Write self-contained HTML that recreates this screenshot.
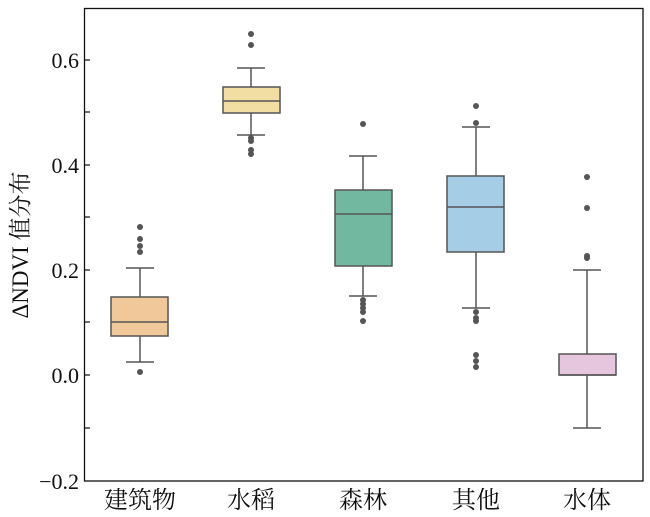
<!DOCTYPE html>
<html><head><meta charset="utf-8"><style>
html,body{margin:0;padding:0;background:#fff;}
svg{display:block;}
text{font-family:"Liberation Serif","Noto Serif CJK SC",serif;fill:#111;}
</style></head><body>
<svg width="650" height="517" viewBox="0 0 650 517" xmlns="http://www.w3.org/2000/svg">
<rect x="0" y="0" width="650" height="517" fill="#fff"/>
<g stroke="#555" stroke-width="1.5" fill="none">
<line x1="140" y1="268" x2="140" y2="297"/><line x1="140" y1="336" x2="140" y2="362"/>
<line x1="126" y1="268" x2="154" y2="268"/><line x1="126" y1="362" x2="154" y2="362"/>
<rect x="111" y="297" width="57" height="39" fill="#f0c89a"/>
<line x1="111" y1="322" x2="168" y2="322"/>
<line x1="251" y1="68" x2="251" y2="87"/><line x1="251" y1="113" x2="251" y2="135"/>
<line x1="237" y1="68" x2="265" y2="68"/><line x1="237" y1="135" x2="265" y2="135"/>
<rect x="223" y="87" width="57" height="26" fill="#f2dea2"/>
<line x1="223" y1="101" x2="280" y2="101"/>
<line x1="363" y1="156" x2="363" y2="190"/><line x1="363" y1="266" x2="363" y2="296"/>
<line x1="349" y1="156" x2="377" y2="156"/><line x1="349" y1="296" x2="377" y2="296"/>
<rect x="335" y="190" width="57" height="76" fill="#72b8a0"/>
<line x1="335" y1="214" x2="392" y2="214"/>
<line x1="476" y1="127" x2="476" y2="176"/><line x1="476" y1="252" x2="476" y2="308"/>
<line x1="462" y1="127" x2="490" y2="127"/><line x1="462" y1="308" x2="490" y2="308"/>
<rect x="447" y="176" width="57" height="76" fill="#a6cde6"/>
<line x1="447" y1="207" x2="504" y2="207"/>
<line x1="587" y1="270" x2="587" y2="354"/><line x1="587" y1="375" x2="587" y2="428"/>
<line x1="573" y1="270" x2="601" y2="270"/><line x1="573" y1="428" x2="601" y2="428"/>
<rect x="559" y="354" width="57" height="21" fill="#e6c6de"/>
<line x1="559" y1="375" x2="616" y2="375"/>
</g>
<g fill="#555">
<circle cx="140" cy="372" r="3"/><circle cx="140" cy="227" r="3"/><circle cx="140" cy="239" r="3"/><circle cx="140" cy="246" r="3"/><circle cx="140" cy="252" r="3"/>
<circle cx="251" cy="34" r="3"/><circle cx="251" cy="45" r="3"/><circle cx="251" cy="138" r="3"/><circle cx="251" cy="141" r="3"/><circle cx="251" cy="150" r="3"/><circle cx="251" cy="154" r="3"/>
<circle cx="363" cy="124" r="3"/><circle cx="363" cy="300" r="3"/><circle cx="363" cy="304" r="3"/><circle cx="363" cy="308" r="3"/><circle cx="363" cy="312" r="3"/><circle cx="363" cy="321" r="3"/>
<circle cx="476" cy="106" r="3"/><circle cx="476" cy="123" r="3"/><circle cx="476" cy="312" r="3"/><circle cx="476" cy="318" r="3"/><circle cx="476" cy="321" r="3"/><circle cx="476" cy="355" r="3"/><circle cx="476" cy="361" r="3"/><circle cx="476" cy="367" r="3"/>
<circle cx="587" cy="177" r="3"/><circle cx="587" cy="208" r="3"/><circle cx="587" cy="256" r="3"/><circle cx="587" cy="258" r="3"/>
</g>
<rect x="84.5" y="8.5" width="558.5" height="472.5" fill="none" stroke="#111" stroke-width="1.3"/>
<g stroke="#111" stroke-width="1.2">
<line x1="84" y1="60" x2="90" y2="60"/><line x1="84" y1="112" x2="90" y2="112"/><line x1="84" y1="165" x2="90" y2="165"/><line x1="84" y1="217" x2="90" y2="217"/><line x1="84" y1="270" x2="90" y2="270"/><line x1="84" y1="322" x2="90" y2="322"/><line x1="84" y1="375" x2="90" y2="375"/><line x1="84" y1="428" x2="90" y2="428"/>
</g>
<g font-size="22" text-anchor="end">
<text x="79" y="68">0.6</text><text x="79" y="173">0.4</text><text x="79" y="278">0.2</text><text x="79" y="383">0.0</text><text x="79" y="489">−0.2</text>
</g>
<g font-size="24" text-anchor="middle">
<text x="140" y="508">建筑物</text><text x="251" y="508">水稻</text><text x="363" y="508">森林</text><text x="476" y="508">其他</text><text x="587" y="508">水体</text>
</g>
<text transform="translate(28,245) rotate(-90)" font-size="23" text-anchor="middle">ΔNDVI 值分布</text>
</svg>
</body></html>
